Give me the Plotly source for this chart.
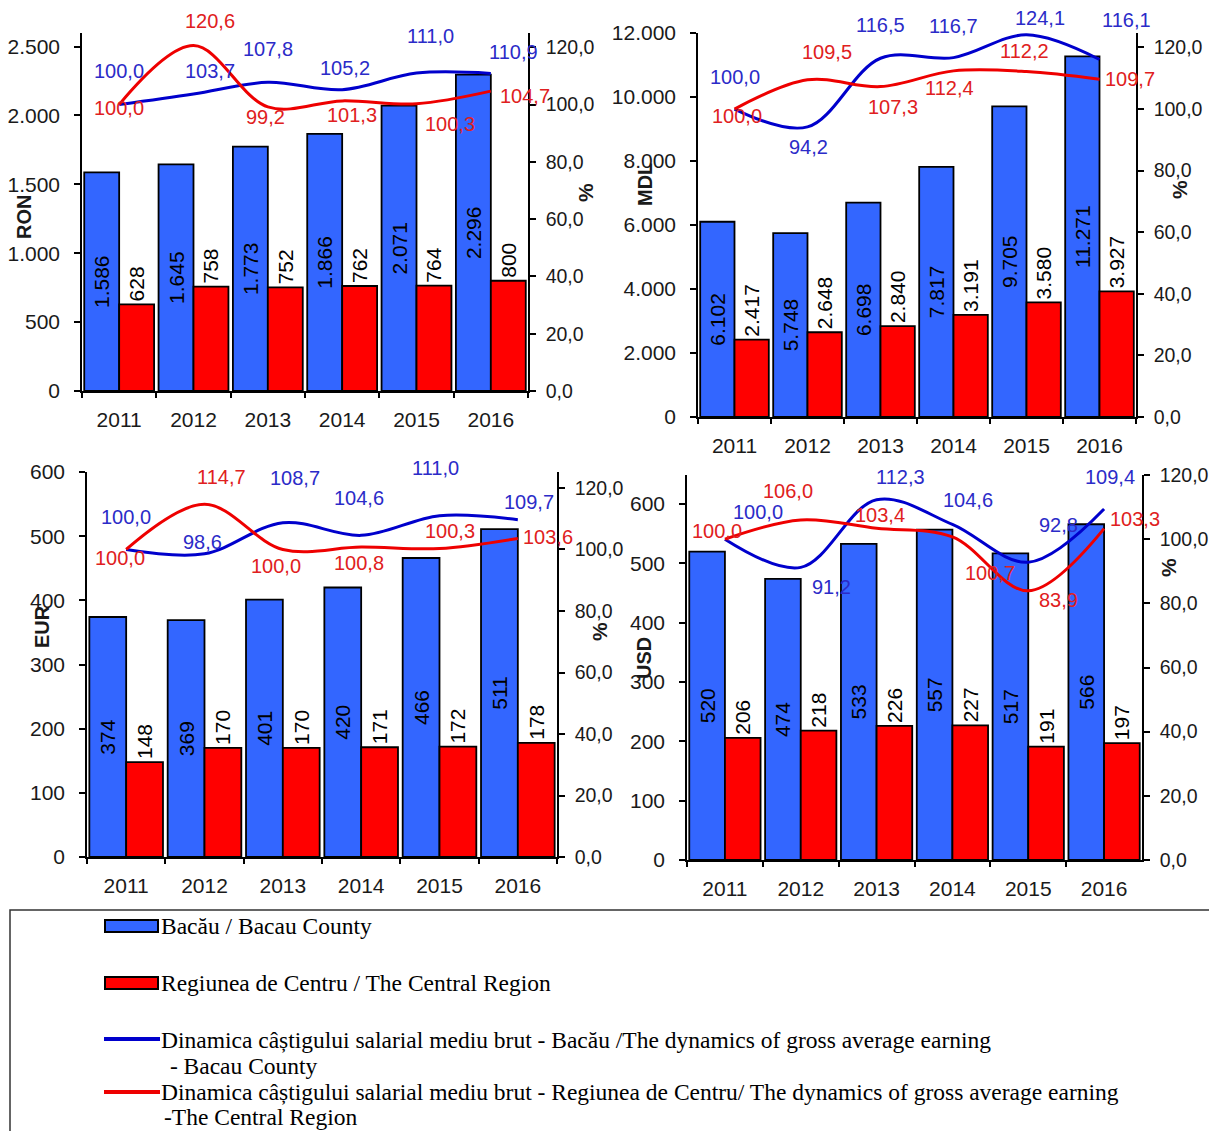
import plotly.graph_objects as go

# ---------------- data ----------------
years = ["2011", "2012", "2013", "2014", "2015", "2016"]

ron_bacau = [1586, 1645, 1773, 1866, 2071, 2296]
ron_centru = [628, 758, 752, 762, 764, 800]
ron_dyn_bacau = [100.0, 103.7, 107.8, 105.2, 111.0, 110.9]
ron_dyn_centru = [100.0, 120.6, 99.2, 101.3, 100.3, 104.7]

mdl_bacau = [6102, 5748, 6698, 7817, 9705, 11271]
mdl_centru = [2417, 2648, 2840, 3191, 3580, 3927]
mdl_dyn_bacau = [100.0, 94.2, 116.5, 116.7, 124.1, 116.1]
mdl_dyn_centru = [100.0, 109.5, 107.3, 112.4, 112.2, 109.7]

eur_bacau = [374, 369, 401, 420, 466, 511]
eur_centru = [148, 170, 170, 171, 172, 178]
eur_dyn_bacau = [100.0, 98.6, 108.7, 104.6, 111.0, 109.7]
eur_dyn_centru = [100.0, 114.7, 100.0, 100.8, 100.3, 103.6]

usd_bacau = [520, 474, 533, 557, 517, 566]
usd_centru = [206, 218, 226, 227, 191, 197]
usd_dyn_bacau = [100.0, 91.2, 112.3, 104.6, 92.8, 109.4]
usd_dyn_centru = [100.0, 106.0, 103.4, 100.7, 83.9, 103.3]

currencies = ["RON", "MDL", "EUR", "USD"]

legend_labels = [
    "Bacău / Bacau County",
    "Regiunea de Centru / The Central Region",
    "Dinamica câștigului salarial mediu brut - Bacău /The dynamics of gross average earning",
    "Dinamica câștigului salarial mediu brut - Regiunea de Centru/ The dynamics of gross average earning",
]
legend_cont = [" - Bacau County", "-The Central Region"]

# ---------------- style ----------------
OFF = 8                       # page body margin
W, H = 1217 - 2 * OFF, 1139 - 2 * OFF
BAR_BLUE = "#3366FF"
BAR_RED = "#FF0000"
LINE_BLUE = "#0000CC"
LINE_RED = "#EE0000"
TXT_BLUE = "#2B2BC8"
TXT_RED = "#E02020"
FONT = "Liberation Sans, Arial, sans-serif"

# label offsets (screen px, dx right, dy down)
lbl_off = {
    "RON": {
        "b": [(0, -34), (16, -23), (0, -33), (3, -22), (14, -37), (23, -21)],
        "r": [(0, 3), (16, -25), (-2, 10), (10, 14), (33, 20), (34, 5)],
    },
    "MDL": {
        "b": [(0, -32), (1, 20), (0, -33), (0, -32), (13, -17), (27, -39)],
        "r": [(2, 7), (19, -28), (12, 20), (-4, 17), (-2, -20), (30, 0)],
    },
    "EUR": {
        "b": [(0, -32), (-2, -12), (12, -45), (-2, -37), (-4, -48), (11, -18)],
        "r": [(-6, 9), (17, -27), (-7, 17), (-2, 16), (10, -18), (30, -1)],
    },
    "USD": {
        "b": [(33, -27), (31, 20), (24, -23), (16, -24), (30, -37), (6, -32)],
        "r": [(-8, -8), (-13, -29), (3, -13), (38, 36), (30, 9), (31, -10)],
    },
}

# panel geometry in reference pixels: x0, x1, ytop, ybottom
panels = {
    "RON": dict(px=(82, 528, 33, 391), yl=(0, 2598), dtl=500, yr=(0, 125),
                title=(24, 217), pct=(586, 193)),
    "MDL": dict(px=(698, 1136, 33, 417), yl=(0, 12000), dtl=2000, yr=(0, 124.7),
                title=(645, 185), pct=(1179, 190)),
    "EUR": dict(px=(87, 557, 472, 857), yl=(0, 600), dtl=100, yr=(0, 125.2),
                title=(42, 627), pct=(599, 632)),
    "USD": dict(px=(687, 1142, 475, 860), yl=(0, 649), dtl=100, yr=(0, 120),
                title=(644, 658), pct=(1168, 568)),
}

series = {
    "RON": (ron_bacau, ron_centru, ron_dyn_bacau, ron_dyn_centru),
    "MDL": (mdl_bacau, mdl_centru, mdl_dyn_bacau, mdl_dyn_centru),
    "EUR": (eur_bacau, eur_centru, eur_dyn_bacau, eur_dyn_centru),
    "USD": (usd_bacau, usd_centru, usd_dyn_bacau, usd_dyn_centru),
}


def fx(p):
    return (p - OFF) / W


def fy(p):
    return 1 - (p - OFF) / H


fig = go.Figure()
layout = {}
annotations = []
shapes = []

axis_common = dict(showline=True, linecolor="black", linewidth=1.5, ticks="outside",
                   tickcolor="black", tickwidth=1.5, showgrid=False, zeroline=False)
TICKFONT = dict(family=FONT, size=21, color="#1a1a1a")
RTICKFONT = dict(family=FONT, size=19.5, color="#1a1a1a")

for i, cur in enumerate(currencies, start=1):
    cfg = panels[cur]
    bac, cen, dyb, dyc = series[cur]
    x0, x1, yt, yb = cfg["px"]
    xname = "x" if i == 1 else f"x{i}"
    xkey = "xaxis" if i == 1 else f"xaxis{i}"
    li, ri = 2 * i - 1, 2 * i
    ylname = "y" if li == 1 else f"y{li}"
    ylkey = "yaxis" if li == 1 else f"yaxis{li}"
    yrname = f"y{ri}"
    yrkey = f"yaxis{ri}"

    layout[xkey] = dict(domain=[fx(x0), fx(x1)], anchor=ylname, type="category",
                        tickson="boundaries", range=[-0.5, 5.5], ticklen=5,
                        ticklabelstandoff=9, tickfont=TICKFONT, **axis_common)
    layout[ylkey] = dict(domain=[fy(yb), fy(yt)], anchor=xname, range=list(cfg["yl"]),
                         dtick=cfg["dtl"], tick0=0, tickformat=",", ticklen=6,
                         ticklabelstandoff=10, tickfont=TICKFONT, **axis_common)
    layout[yrkey] = dict(domain=[fy(yb), fy(yt)], anchor=xname, overlaying=ylname,
                         side="right", range=list(cfg["yr"]), dtick=20, tick0=0,
                         tickformat=".1f", ticklen=6, ticklabelstandoff=6,
                         tickfont=RTICKFONT, **axis_common)

    fig.add_trace(go.Bar(
        x=years, y=bac, xaxis=xname, yaxis=ylname, name=legend_labels[0],
        marker=dict(color=BAR_BLUE, line=dict(color="black", width=1.8)),
        texttemplate="%{y:,}", textposition="inside", insidetextanchor="middle",
        textangle=-90, constraintext="none",
        textfont=dict(family=FONT, size=21, color="black"), showlegend=False))
    fig.add_trace(go.Bar(
        x=years, y=cen, xaxis=xname, yaxis=ylname, name=legend_labels[1],
        marker=dict(color=BAR_RED, line=dict(color="black", width=1.8)),
        texttemplate="%{y:,}", textposition="outside", textangle=-90,
        constraintext="none", cliponaxis=False,
        textfont=dict(family=FONT, size=21, color="black"), showlegend=False))
    fig.add_trace(go.Scatter(
        x=years, y=dyb, xaxis=xname, yaxis=yrname, mode="lines", name=legend_labels[2],
        line=dict(color=LINE_BLUE, width=3, shape="spline", smoothing=1.0),
        showlegend=False))
    fig.add_trace(go.Scatter(
        x=years, y=dyc, xaxis=xname, yaxis=yrname, mode="lines", name=legend_labels[3],
        line=dict(color=LINE_RED, width=3, shape="spline", smoothing=1.0),
        showlegend=False))

    for vals, key, col in ((dyb, "b", TXT_BLUE), (dyc, "r", TXT_RED)):
        for j, (v, (dx, dy)) in enumerate(zip(vals, lbl_off[cur][key])):
            annotations.append(dict(
                x=j, y=v, xref=xname, yref=yrname, showarrow=False,
                xanchor="center", yanchor="middle",
                text=f"{v:.1f}".replace(".", ","), xshift=dx, yshift=-dy,
                font=dict(family=FONT, size=20, color=col)))

    tx, ty = cfg["title"]
    annotations.append(dict(x=fx(tx), y=fy(ty), xref="paper", yref="paper",
                            xanchor="center", yanchor="middle",
                            showarrow=False, text=f"<b>{cur}</b>", textangle=-90,
                            font=dict(family=FONT, size=20, color="#1a1a1a")))
    px_, py_ = cfg["pct"]
    annotations.append(dict(x=fx(px_), y=fy(py_), xref="paper", yref="paper",
                            xanchor="center", yanchor="middle",
                            showarrow=False, text="<b>%</b>", textangle=-90,
                            font=dict(family=FONT, size=21, color="#1a1a1a")))

# ---------------- legend box (drawn) ----------------
shapes.append(dict(type="rect", xref="paper", yref="paper", x0=fx(10), x1=fx(1212),
                   y0=fy(1160), y1=fy(910), line=dict(color="#333333", width=1.5),
                   fillcolor="rgba(0,0,0,0)"))
shapes.append(dict(type="rect", xref="paper", yref="paper", x0=fx(105), x1=fx(158),
                   y0=fy(932), y1=fy(920), line=dict(color="black", width=2),
                   fillcolor=BAR_BLUE))
shapes.append(dict(type="rect", xref="paper", yref="paper", x0=fx(105), x1=fx(158),
                   y0=fy(989), y1=fy(977), line=dict(color="black", width=2),
                   fillcolor=BAR_RED))
shapes.append(dict(type="line", xref="paper", yref="paper", x0=fx(104), x1=fx(160),
                   y0=fy(1039), y1=fy(1039), line=dict(color=LINE_BLUE, width=4)))
shapes.append(dict(type="line", xref="paper", yref="paper", x0=fx(104), x1=fx(160),
                   y0=fy(1092), y1=fy(1092), line=dict(color=LINE_RED, width=4)))

LFONT = dict(family="Liberation Serif, Times New Roman, serif", size=23.5, color="black")
for txt, xp, yp in ((legend_labels[0], 160, 926), (legend_labels[1], 160, 983),
                    (legend_labels[2], 160, 1040), (legend_cont[0], 163, 1066),
                    (legend_labels[3], 160, 1092), (legend_cont[1], 163, 1117)):
    annotations.append(dict(x=fx(xp), y=fy(yp), xref="paper", yref="paper",
                            xanchor="left", yanchor="middle", showarrow=False,
                            text=txt, font=LFONT, borderpad=0))

fig.update_layout(
    width=W, height=H, margin=dict(l=0, r=0, t=0, b=0, autoexpand=False),
    paper_bgcolor="white", plot_bgcolor="white",
    barmode="group", bargap=0.06, bargroupgap=0,
    separators=",.", showlegend=False,
    annotations=annotations, shapes=shapes,
    font=dict(family=FONT),
    **layout,
)

fig.write_html("out.html")
